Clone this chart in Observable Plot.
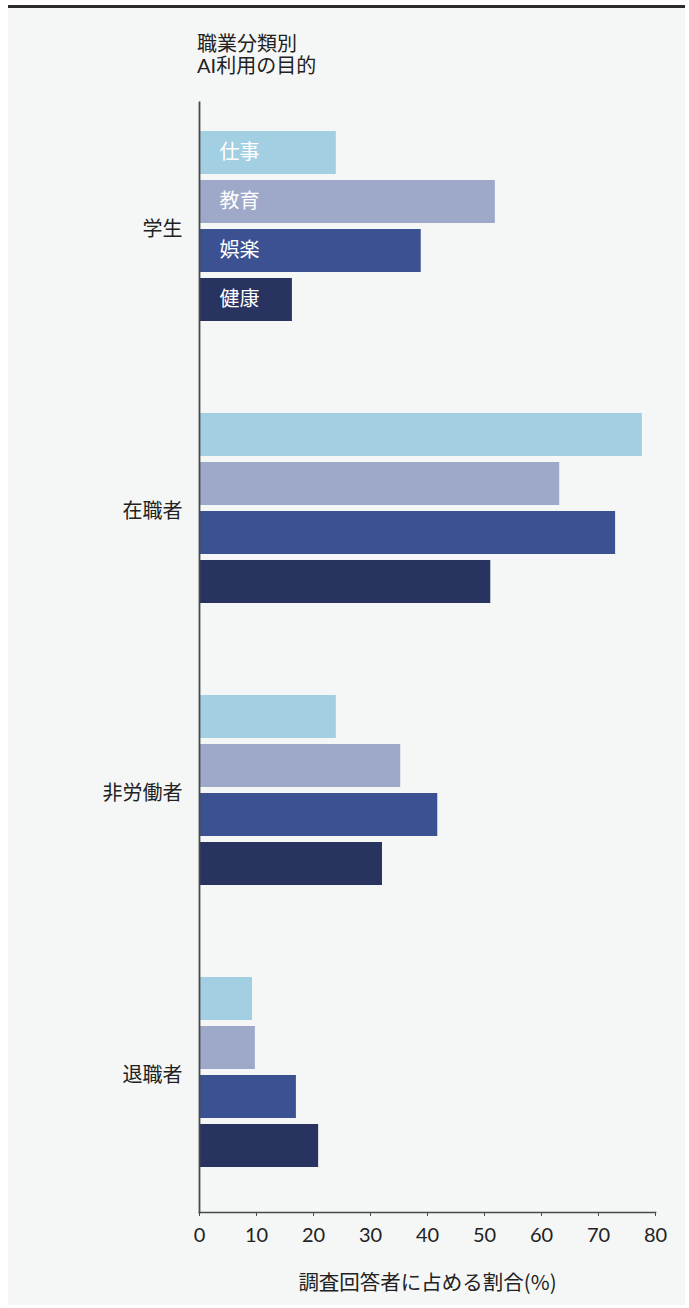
<!DOCTYPE html>
<html lang="ja">
<head>
<meta charset="utf-8">
<script src="https://cdn.jsdelivr.net/npm/d3@7"></script>
<script src="https://cdn.jsdelivr.net/npm/@observablehq/plot@0.6"></script>
<style>
  html, body { margin: 0; padding: 0; background: #ffffff; width: 689px; height: 1308px; overflow: hidden; }
  #frame { position: absolute; left: 8px; top: 5px; width: 677px; height: 1297px; background: #f5f7f6; border-top: 3px solid #2b2b2b; }
  #title { position: absolute; left: 197px; top: 32px; font-family: Lato, "Noto Sans CJK JP", sans-serif; font-size: 20px; line-height: 22px; color: #222; }
  #chart { position: absolute; left: 0; top: 90px; }
</style>
</head>
<body>
<div id="frame"></div>
<div id="title">職業分類別<br>AI利用の目的</div>
<div id="chart"></div>
<script>
const occupations = ["学生", "在職者", "非労働者", "退職者"];
const purposes = ["仕事", "教育", "娯楽", "健康"];
const colors = ["#a3cfe3", "#9ea9c9", "#3b5192", "#283360"];
const valuesStudent = [24.0, 51.9, 38.9, 16.3];
const valuesEmployed = [77.7, 63.2, 73.0, 51.1];
const valuesNonWorking = [24.0, 35.3, 41.8, 32.1];
const valuesRetired = [9.3, 9.8, 17.0, 20.9];
const xTicks = [0, 10, 20, 30, 40, 50, 60, 70, 80];
const xLabel = "調査回答者に占める割合(%)";

const series = [valuesStudent, valuesEmployed, valuesNonWorking, valuesRetired];
const data = occupations.flatMap((occ, i) =>
  purposes.map((p, j) => ({occupation: occ, purpose: p, value: series[i][j]}))
);

const chart = Plot.plot({
  width: 689,
  height: 1218,
  marginLeft: 199,
  marginRight: 34,
  marginTop: 11,
  marginBottom: 95,
  style: {fontFamily: 'Lato, "Noto Sans CJK JP", sans-serif', fontSize: "20px", color: "#222", background: "transparent"},
  x: {domain: [0, 80]},
  fy: {domain: occupations, paddingInner: 0.0637, paddingOuter: 0, align: 0.5},
  y: {domain: purposes, paddingInner: 0.1313, paddingOuter: 0.7374, align: 0.3836, axis: null},
  color: {domain: purposes, range: colors},
  marks: [
    Plot.barX(data, {fy: "occupation", y: "purpose", x: "value", fill: "purpose"}),
    Plot.text(data.filter(d => d.occupation === occupations[0]), {
      fy: "occupation", y: "purpose", text: "purpose", frameAnchor: "left",
      textAnchor: "start", dx: 20, fill: "white", fontSize: 20
    }),
    Plot.frame({anchor: "left", facet: "super", stroke: "#4a4a4a", strokeWidth: 1.8}),
    Plot.frame({anchor: "bottom", facet: "super", stroke: "#4a4a4a", strokeWidth: 1.6}),
    Plot.axisFy({anchor: "left", tickSize: 0, tickPadding: 17, label: null, fontSize: 20, dy: -5}),
    Plot.axisX({
      ticks: xTicks, tickSize: 4, tickPadding: 11, fontSize: 20, stroke: "#4a4a4a", label: null
    }),
    Plot.axisX({
      ticks: [], tickSize: 0, fontSize: 20.5, fontFamily: '"Noto Sans CJK JP", sans-serif',
      label: xLabel, labelAnchor: "center", labelArrow: "none", labelOffset: 77
    })
  ]
});
document.getElementById("chart").appendChild(chart);
</script>
</body>
</html>
